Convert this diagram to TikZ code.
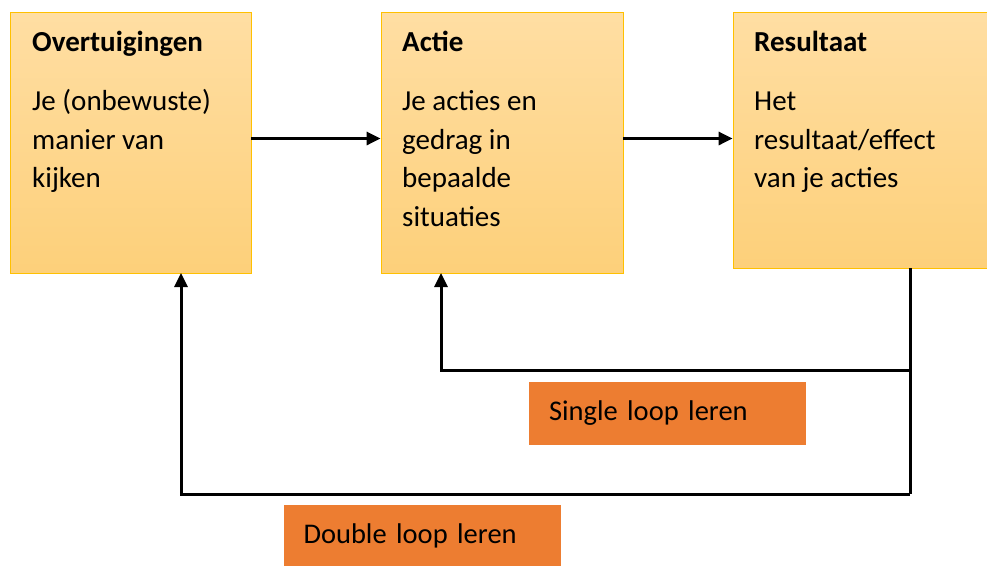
\documentclass[tikz,border=0pt]{standalone}
\usepackage{fontspec}
\setmainfont{Carlito}
\usetikzlibrary{arrows.meta,calc}
\definecolor{goldtop}{HTML}{FFDEA3}
\definecolor{goldbot}{HTML}{FDD07A}
\definecolor{goldline}{HTML}{FFC000}
\definecolor{loopfill}{HTML}{ED7D31}
\tikzset{
	goldbox/.style={draw=goldline, line width=0.8pt, top color=goldtop, bottom color=goldbot, inner sep=0pt},
	boxtext/.style={anchor=north west, align=left, inner sep=0pt, font=\fontsize{29}{38.5}\selectfont},
	loopbox/.style={fill=loopfill, minimum height=63pt, text width=237pt, inner xsep=20pt, align=left, font=\fontsize{28.5}{32}\selectfont},
	flow/.style={line width=3pt, -{Triangle[length=14pt,width=13pt]}},
	loopline/.style={line width=3pt}
}
\begin{document}
\begin{tikzpicture}[x=1pt, y=-1pt]
			%%%%% START %%%%%
			\useasboundingbox (0, 0) rectangle (987, 565);
			
			\node[goldbox, minimum width=241pt, minimum height=261pt] (ovt) at (130.5, 142.5) {};
			\node[goldbox, minimum width=242pt, minimum height=261pt] (act) at (502, 142.5) {};
			\node[goldbox, minimum width=260pt, minimum height=256pt] (res) at (863, 140) {};
			
			\node[boxtext] (ovttxt) at (32, 31) {\textbf{Overtuigingen}\\[20.5pt]Je (onbewuste)\\manier van\\kijken};
			\node[boxtext] (acttxt) at (402, 31) {\textbf{Actie}\\[20.5pt]Je acties en\\gedrag in\\bepaalde\\situaties};
			\node[boxtext] (restxt) at (754, 31) {\textbf{Resultaat}\\[20.5pt]Het\\resultaat/effect\\van je acties};
			
			\node[loopbox] (single) at (667.5, 413) {Single loop leren};
			\node[loopbox] (double) at (422, 536) {Double loop leren};
			
			\coordinate (split1) at (910, 370);
			\coordinate (split2) at (910, 494);
			\coordinate (actin) at (441, 273);
			\coordinate (ovtin) at (181, 273);
			
			\draw[flow] ([yshift=4pt]ovt.east) -- ([yshift=4pt]act.west);
			\draw[flow] ([yshift=4pt]act.east) -- ([yshift=4pt]act.east -| res.west);
			
			\draw[loopline] (res.south -| split1) -- (split2);
			\draw[flow] (split1) -| (actin);
			\draw[flow] (split2) -| (ovtin);
			%%%%% END %%%%%
\end{tikzpicture}
\end{document}
